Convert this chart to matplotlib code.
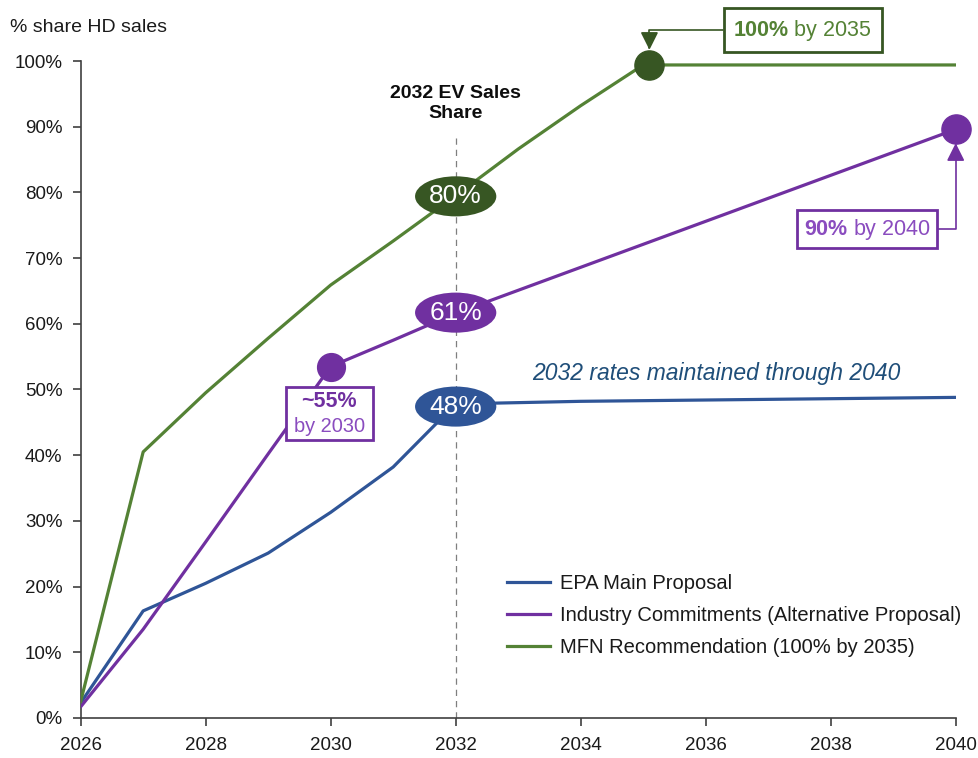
import matplotlib.pyplot as plt
from matplotlib.patches import Ellipse, Rectangle

plt.rcParams['font.family'] = ['Liberation Sans', 'DejaVu Sans']
plt.rcParams['mathtext.fontset'] = 'custom'
plt.rcParams['mathtext.rm'] = 'Liberation Sans'
plt.rcParams['mathtext.bf'] = 'Liberation Sans:bold'

# data (share of HD sales)
years = [2026, 2027, 2028, 2029, 2030, 2031, 2032, 2033, 2034, 2035, 2036, 2037, 2038, 2039, 2040]
epa = [0.023, 0.163, 0.205, 0.251, 0.313, 0.382, 0.478, 0.480, 0.482, 0.483, 0.484, 0.485, 0.486, 0.487, 0.488]
industry = [0.017, 0.135, 0.268, 0.402, 0.535, 0.575, 0.616, 0.651, 0.686, 0.721, 0.756, 0.791, 0.826, 0.861, 0.896]
mfn = [0.025, 0.405, 0.495, 0.578, 0.659, 0.726, 0.795, 0.866, 0.932, 0.994, 0.994, 0.994, 0.994, 0.994, 0.994]
labels = ['EPA Main Proposal', 'Industry Commitments (Alternative Proposal)', 'MFN Recommendation (100% by 2035)']

c_blue = '#2F5597'
c_purple = '#7030A0'
c_lpurple = '#8a4cbf'
c_green = '#548235'
c_dkgreen = '#375623'
c_text = '#1a1a1a'

fig = plt.figure(figsize=(9.79, 7.58), dpi=100)
ax = fig.add_axes([0.0824, 0.0528, 0.8938, 0.8667])

ax.plot(years, epa, color=c_blue, lw=2.3, label=labels[0], zorder=3)
ax.plot(years, industry, color=c_purple, lw=2.3, label=labels[1], zorder=3)
ax.plot(years, mfn, color=c_green, lw=2.3, label=labels[2], zorder=3)

ax.set_xlim(2026, 2040)
ax.set_ylim(0, 1.0)
ax.set_xticks(range(2026, 2041, 2))
ax.set_yticks([i / 10 for i in range(11)])
ax.set_yticklabels(['%d%%' % (i * 10) for i in range(11)])
for s in ['top', 'right']:
    ax.spines[s].set_visible(False)
for s in ['left', 'bottom']:
    ax.spines[s].set_color('#404040')
    ax.spines[s].set_linewidth(1.2)
ax.tick_params(direction='out', length=6, width=1.2, color='#404040',
               labelsize=13.5, labelcolor=c_text)
ax.tick_params(axis='y', pad=7)
ax.tick_params(axis='x', pad=8)

fig.text(0.010, 0.964, '% share HD sales', fontsize=14, color=c_text, va='center')

# 2032 marker line
ax.plot([2032, 2032], [0, 0.89], color='#7f7f7f', lw=0.9, ls=(0, (5, 4)), zorder=1)
ax.text(2032, 0.935, '2032 EV Sales\nShare', ha='center', va='center', fontsize=14,
        fontweight='bold', color='#0d0d0d', linespacing=1.2)

# value ellipses at 2032
ew, eh = 1.30, 0.061
for val, txt, col in [(0.794, '80%', c_dkgreen), (0.617, '61%', c_purple), (0.474, '48%', c_blue)]:
    ax.add_patch(Ellipse((2032, val), ew, eh, facecolor=col, edgecolor='none', zorder=5))
    ax.text(2032, val, txt, ha='center', va='center', color='white', fontsize=19, zorder=6)

ax.text(2036.17, 0.5236, '2032 rates maintained through 2040', ha='center', va='center',
        fontsize=16.5, style='italic', color='#1F4E79')

# highlight markers
ax.plot([2035.1], [0.994], 'o', ms=21, color=c_dkgreen, clip_on=False, zorder=6)
ax.plot([2040], [0.896], 'o', ms=21, color=c_purple, clip_on=False, zorder=6)
ax.plot([2030], [0.535], 'o', ms=20, color=c_purple, zorder=6)

# callouts
ax.annotate(r'$\mathbf{100\%}$ by 2035', xy=(2035.1, 1.017), xytext=(2037.55, 1.047),
            annotation_clip=False, ha='center', va='center', fontsize=15.5, color=c_green, zorder=7,
            bbox=dict(boxstyle='square,pad=0.45', facecolor='white', edgecolor=c_dkgreen, lw=2),
            arrowprops=dict(arrowstyle='-|>,head_length=0.7,head_width=0.35', color=c_dkgreen, lw=1.2,
                            connectionstyle='angle,angleA=0,angleB=90,rad=0', shrinkA=0, shrinkB=0))

ax.annotate(r'$\mathbf{90\%}$ by 2040', xy=(2040, 0.875), xytext=(2038.58, 0.744),
            annotation_clip=False, ha='center', va='center', fontsize=15.5, color=c_lpurple, zorder=7,
            bbox=dict(boxstyle='square,pad=0.3', facecolor='white', edgecolor=c_purple, lw=2),
            arrowprops=dict(arrowstyle='-|>,head_length=0.7,head_width=0.35', color=c_purple, lw=1.2,
                            connectionstyle='angle,angleA=0,angleB=90,rad=0', shrinkA=0, shrinkB=0))

ax.add_patch(Rectangle((2029.285, 0.423), 1.392, 0.081, facecolor='white', edgecolor=c_purple,
                       lw=2, zorder=7))
ax.text(2029.98, 0.482, '~55%', ha='center', va='center', fontsize=15.5,
        fontweight='bold', color=c_purple, zorder=8)
ax.text(2029.98, 0.443, 'by 2030', ha='center', va='center', fontsize=14.4,
        color=c_lpurple, zorder=8)

leg = ax.legend(loc='upper left', bbox_to_anchor=(0.487, 0.219), frameon=False, fontsize=14.5,
                handlelength=2.15, handletextpad=0.5, labelspacing=0.65, borderpad=0,
                borderaxespad=0, labelcolor=c_text)

fig.savefig('out.png', dpi=100)
